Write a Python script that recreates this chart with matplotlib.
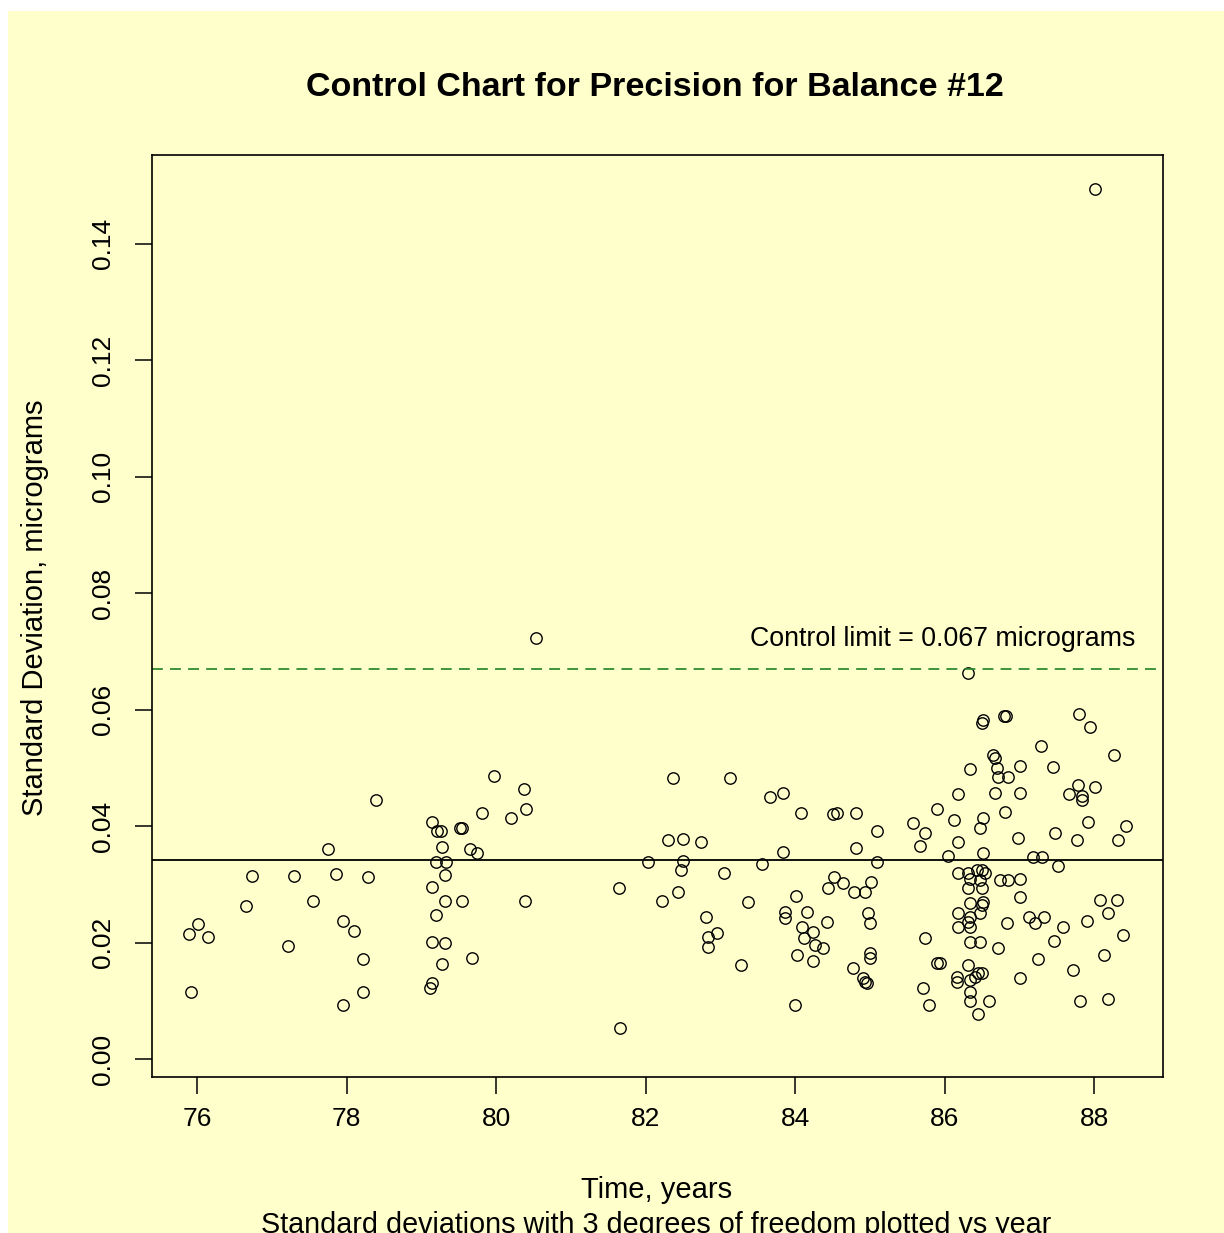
import matplotlib
matplotlib.use("Agg")
import matplotlib.pyplot as plt
from matplotlib.patches import Rectangle
import numpy as np

plt.rcParams['font.family'] = ['Liberation Sans', 'DejaVu Sans']

# Balance #12 precision checks: time (years) and standard deviation (micrograms)
years = [
    75.89, 75.92, 76.01, 76.15, 76.66, 76.74, 77.22, 77.30, 77.55, 77.75,
    77.86, 77.95, 77.95, 78.10, 78.22, 78.22, 78.29, 78.39,
    79.12, 79.14, 79.14, 79.14, 79.14, 79.20, 79.20, 79.21, 79.26, 79.28,
    79.28, 79.32, 79.32, 79.32, 79.33, 79.52, 79.54, 79.54, 79.65, 79.68,
    79.74, 79.81, 79.97, 80.20, 80.37, 80.39, 80.40, 80.54,
    81.65, 81.66, 82.03, 82.22, 82.30, 82.37, 82.43, 82.47, 82.50, 82.50,
    82.74, 82.81, 82.84, 82.84, 82.96, 83.05, 83.13, 83.28, 83.37, 83.56,
    83.67, 83.84, 83.84, 83.87, 83.87,
    84.00, 84.01, 84.03, 84.08, 84.10, 84.12, 84.16, 84.24, 84.24, 84.27,
    84.37, 84.43, 84.44, 84.51, 84.52, 84.56, 84.64, 84.78, 84.79, 84.82,
    84.82, 84.91, 84.94, 84.94, 84.96, 84.98, 85.00, 85.00, 85.00, 85.02,
    85.10, 85.10,
    85.58, 85.67, 85.71, 85.74, 85.74, 85.79, 85.90, 85.90, 85.94, 86.05,
    86.13, 86.17, 86.17, 86.18, 86.18, 86.18, 86.18, 86.18,
    86.31, 86.31, 86.31, 86.31, 86.31, 86.34, 86.34, 86.34, 86.34, 86.34,
    86.34, 86.34, 86.34, 86.34, 86.41, 86.43, 86.45, 86.45, 86.47, 86.47,
    86.47, 86.47, 86.50, 86.50, 86.50, 86.50, 86.50, 86.51, 86.51, 86.51,
    86.51, 86.54, 86.60, 86.65, 86.67, 86.68, 86.70, 86.72, 86.72, 86.74,
    86.80, 86.82, 86.81, 86.84, 86.85, 86.85, 86.98,
    87.01, 87.01, 87.01, 87.01, 87.01, 87.13, 87.19, 87.21, 87.25, 87.29,
    87.31, 87.33, 87.45, 87.47, 87.48, 87.52, 87.58, 87.67, 87.72, 87.77,
    87.79, 87.80, 87.81, 87.84, 87.84, 87.91, 87.92, 87.95, 88.01, 88.01,
    88.08, 88.13, 88.19, 88.19, 88.27, 88.31, 88.32, 88.39, 88.43,
]
std_dev = [
    0.0215, 0.0115, 0.0232, 0.0209, 0.0263, 0.0314, 0.0194, 0.0314, 0.0271, 0.0360,
    0.0318, 0.0237, 0.0093, 0.0220, 0.0172, 0.0115, 0.0312, 0.0445,
    0.0122, 0.0130, 0.0201, 0.0295, 0.0407, 0.0247, 0.0338, 0.0391, 0.0391, 0.0364,
    0.0163, 0.0316, 0.0271, 0.0199, 0.0338, 0.0397, 0.0397, 0.0271, 0.0360, 0.0173,
    0.0354, 0.0422, 0.0486, 0.0414, 0.0463, 0.0271, 0.0429, 0.0723,
    0.0294, 0.0053, 0.0338, 0.0271, 0.0376, 0.0482, 0.0287, 0.0324, 0.0378, 0.0340,
    0.0373, 0.0244, 0.0210, 0.0192, 0.0216, 0.0319, 0.0482, 0.0161, 0.0270, 0.0335,
    0.0450, 0.0457, 0.0355, 0.0252, 0.0242,
    0.0093, 0.0280, 0.0179, 0.0422, 0.0227, 0.0208, 0.0252, 0.0218, 0.0168, 0.0196,
    0.0191, 0.0235, 0.0294, 0.0420, 0.0312, 0.0422, 0.0302, 0.0156, 0.0287, 0.0422,
    0.0362, 0.0139, 0.0287, 0.0132, 0.0130, 0.0251, 0.0233, 0.0182, 0.0173, 0.0304,
    0.0391, 0.0338,
    0.0405, 0.0366, 0.0122, 0.0388, 0.0208, 0.0093, 0.0429, 0.0165, 0.0165, 0.0348,
    0.0410, 0.0141, 0.0132, 0.0455, 0.0373, 0.0319, 0.0251, 0.0227,
    0.0663, 0.0319, 0.0294, 0.0235, 0.0161, 0.0498, 0.0309, 0.0268, 0.0244, 0.0227,
    0.0201, 0.0136, 0.0115, 0.0100, 0.0141, 0.0324, 0.0148, 0.0077, 0.0397, 0.0307,
    0.0251, 0.0201, 0.0577, 0.0324, 0.0294, 0.0264, 0.0148, 0.0582, 0.0414, 0.0354,
    0.0270, 0.0319, 0.0100, 0.0522, 0.0517, 0.0457, 0.0500, 0.0484, 0.0191, 0.0307,
    0.0589, 0.0589, 0.0424, 0.0233, 0.0484, 0.0307, 0.0379,
    0.0503, 0.0457, 0.0309, 0.0278, 0.0139, 0.0244, 0.0347, 0.0233, 0.0172, 0.0537,
    0.0347, 0.0244, 0.0501, 0.0203, 0.0388, 0.0331, 0.0227, 0.0455, 0.0153, 0.0376,
    0.0470, 0.0592, 0.0100, 0.0452, 0.0445, 0.0237, 0.0407, 0.0570, 0.0467, 0.1494,
    0.0273, 0.0179, 0.0251, 0.0103, 0.0522, 0.0273, 0.0376, 0.0213, 0.0400,
]

center_line = 0.0342
control_limit = 0.067

x_ticks = [76, 78, 80, 82, 84, 86, 88]
y_ticks = [0.00, 0.02, 0.04, 0.06, 0.08, 0.10, 0.12, 0.14]
y_tick_labels = ["0.00", "0.02", "0.04", "0.06", "0.08", "0.10", "0.12", "0.14"]

W, H = 1224, 1233
BG = "#FFFFCC"

fig = plt.figure(figsize=(W / 100, H / 100), dpi=100, facecolor="white")
fig.patches.append(Rectangle((8 / W, 0), 1 - 8 / W, 1 - 11 / H,
                             transform=fig.transFigure, facecolor=BG,
                             edgecolor="none", zorder=-10))

def fx(px):
    return px / W

def fy(py):
    return 1 - py / H

ax = fig.add_axes([fx(152), fy(1077), fx(1163) - fx(152), fy(155) - fy(1077)])
ax.set_facecolor(BG)

ax.plot(years, std_dev, linestyle="none", marker="o", ms=8.2,
        mfc="none", mec="black", mew=1.0)

ax.axhline(center_line, color="black", lw=1.3)
ax.axhline(control_limit, color="#2E8B2E", lw=1.3, linestyle=(0, (6, 4)))
ax.text(88.55, control_limit + 0.0028, "Control limit = 0.067 micrograms",
        ha="right", va="bottom", fontsize=19.3, color="black")

ax.set_xlim(75.398, 88.923)
ax.set_ylim(-0.00309, 0.1552)

ax.set_xticks(x_ticks)
ax.set_xticklabels([str(t) for t in x_ticks])
ax.set_yticks(y_ticks)
ax.set_yticklabels(y_tick_labels, rotation=90, va="center")
ax.tick_params(axis="both", direction="out", length=12.5, width=1.1,
               labelsize=19, colors="black")
ax.tick_params(axis="x", pad=9)
ax.tick_params(axis="y", pad=14)
for s in ax.spines.values():
    s.set_linewidth(1.2)
    s.set_color("black")

fig.text(fx(655), fy(88), "Control Chart for Precision for Balance #12",
         ha="center", va="center", fontsize=24.5, fontweight="bold")
fig.text(fx(35), fy(608), "Standard Deviation, micrograms", rotation=90,
         ha="center", va="center", fontsize=21)
fig.text(fx(657), fy(1190), "Time, years", ha="center", va="center", fontsize=21)
fig.text(fx(656), fy(1225), "Standard deviations with 3 degrees of freedom plotted vs year",
         ha="center", va="center", fontsize=20.7)

fig.savefig("out.png", dpi=100, facecolor=fig.get_facecolor())
